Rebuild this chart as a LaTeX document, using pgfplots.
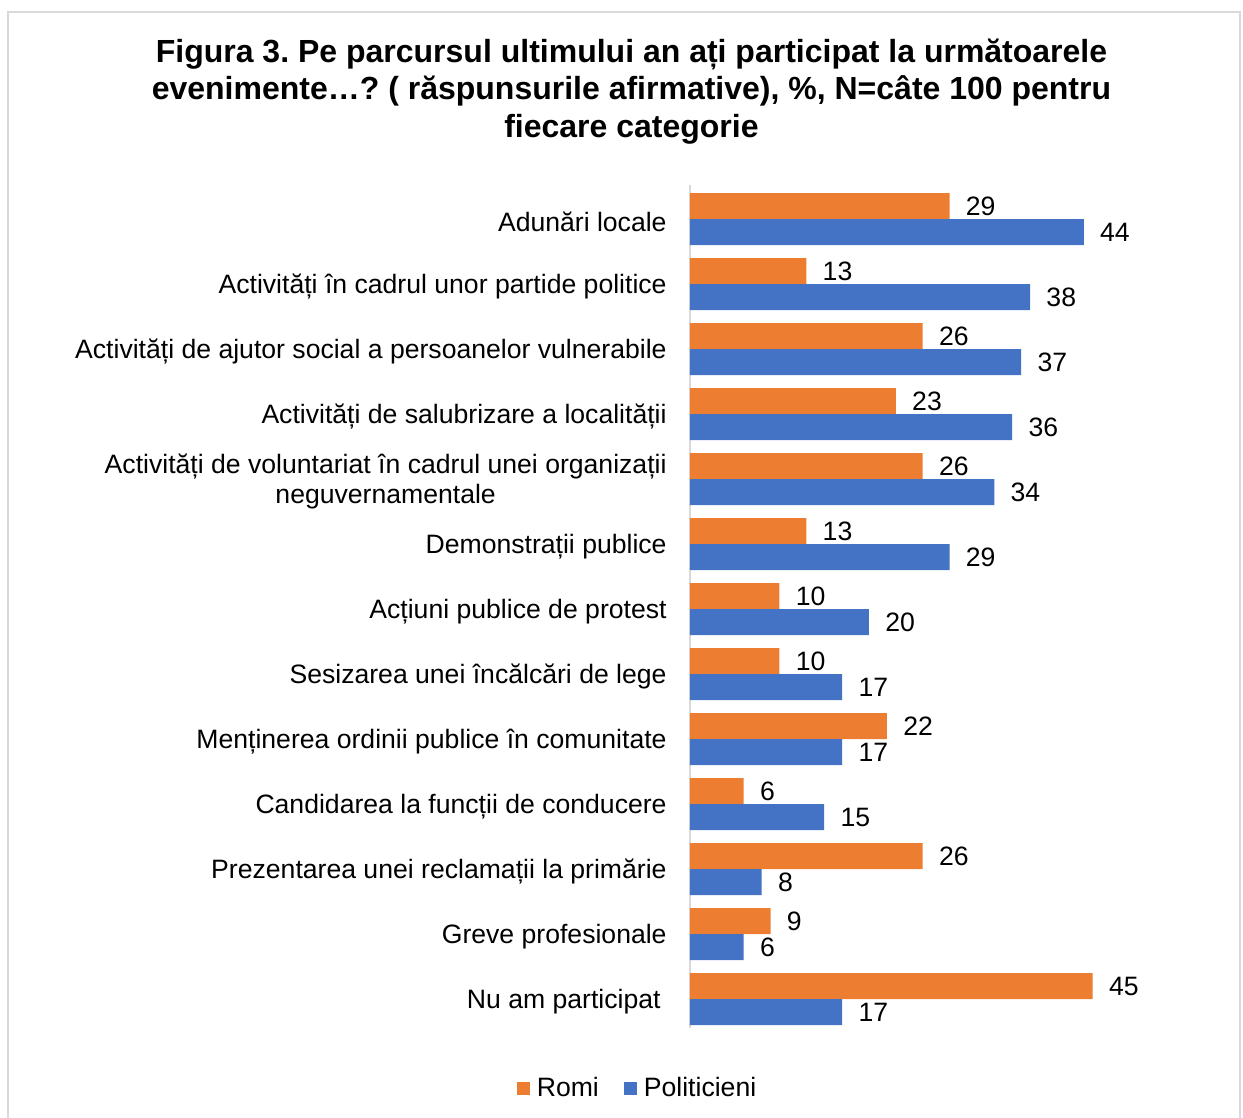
\documentclass[border=0pt]{standalone}
\usepackage{pgfplots}
\pgfplotsset{compat=1.18}
\usepackage{fontspec}
\setmainfont{Liberation Sans}
\frenchspacing
\definecolor{romi}{HTML}{ED7D31}
\definecolor{polit}{HTML}{4472C4}
\definecolor{frame}{HTML}{D9D9D9}
\begin{document}
\begin{tikzpicture}
\useasboundingbox (0,0) rectangle (621.5pt,-559pt);
\draw[frame, line width=0.8pt] (4pt,-6pt) rectangle (620pt,-562pt);
\node[align=center, font=\fontsize{16}{18.75}\selectfont\bfseries] at (315.75pt,-45.75pt)
  {Figura 3. Pe parcursul ultimului an ați participat la următoarele\\
   evenimente…? ( răspunsurile afirmative), \%, N=câte 100 pentru\\
   fiecare categorie};
\begin{axis}[
    at={(345pt,-92.5pt)}, anchor=north west,
    scale only axis,
    width=223.75pt, height=421.5pt,
    xbar,
    xmin=0, xmax=50,
    ymin=-0.523, ymax=12.446,
    y dir=reverse,
    axis x line=none,
    axis y line*=left,
    y axis line style={frame, line width=0.8pt},
    xtick=\empty,
    ytick={0,...,12},
    major tick length=0pt,
    /pgf/number format/assume math mode=true,
    yticklabels={
      {Adunări locale},
      {Activități în cadrul unor partide politice},
      {Activități de ajutor social a persoanelor vulnerabile},
      {Activități de salubrizare a localității},
      {Activități de voluntariat în cadrul unei organizații\\neguvernamentale},
      {Demonstrații publice},
      {Acțiuni publice de protest},
      {Sesizarea unei încălcări de lege},
      {Menținerea ordinii publice în comunitate},
      {Candidarea la funcții de conducere},
      {Prezentarea unei reclamații la primărie},
      {Greve profesionale},
      {Nu am participat\hspace{3pt}}},
    yticklabel style={align=center, inner sep=0pt, xshift=-11.5pt, yshift=-1.2pt,
      font=\fontsize{13.3}{15}\selectfont},
    bar width=0.4,
    nodes near coords,
    nodes near coords style={anchor=west, inner sep=0pt, xshift=8pt,
      font=\fontsize{13.3}{15}\selectfont, text=black},
    legend columns=2,
    legend style={draw=none, at={(-0.1117,-0.0712)}, anchor=center,
      font=\fontsize{13.3}{15}\selectfont,
      nodes={inner sep=0pt, inner xsep=3.5pt},
      /tikz/every even column/.append style={column sep=9pt}},
    legend image code/.code={\fill[#1] (0pt,-3.25pt) rectangle (6.5pt,3.25pt);},
]
\addplot[fill=romi, draw=none, bar shift=-0.2] coordinates {
  (29,0) (13,1) (26,2) (23,3) (26,4) (13,5) (10,6)
  (10,7) (22,8) (6,9) (26,10) (9,11) (45,12)};
\addlegendentry{Romi}
\addplot[fill=polit, draw=none, bar shift=0.2] coordinates {
  (44,0) (38,1) (37,2) (36,3) (34,4) (29,5) (20,6)
  (17,7) (17,8) (15,9) (8,10) (6,11) (17,12)};
\addlegendentry{Politicieni}
\end{axis}
\end{tikzpicture}
\end{document}
